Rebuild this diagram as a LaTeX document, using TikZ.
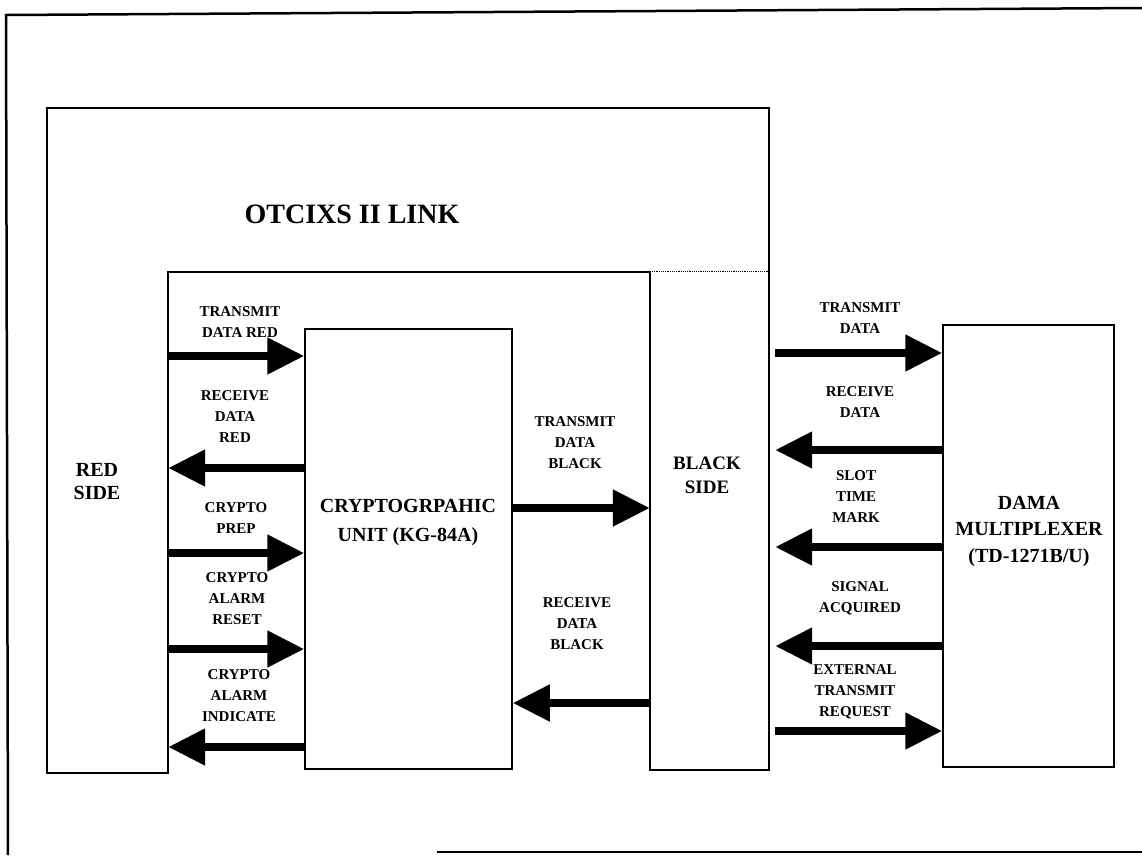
\documentclass[tikz,border=0pt]{standalone}
\usepackage{fontspec}
\setmainfont{Liberation Serif}
\usetikzlibrary{arrows.meta}

\tikzset{
  sig/.style={font=\fontsize{15}{21}\selectfont\bfseries, align=center, inner sep=0pt},
  bigtxt/.style={font=\fontsize{20}{29}\selectfont\bfseries, align=center, inner sep=0pt},
  fat/.style={line width=8pt, -{Triangle[length=37pt,width=35pt]}},
  unitbox/.style={draw, line width=1.5pt, inner sep=0pt},
  area/.style={inner sep=0pt},
}

\begin{document}
\begin{tikzpicture}[x=1pt, y=-1pt]
\useasboundingbox (0,0) rectangle (1142,855);

% Page frame
\draw[line width=2.5pt] (1142,8) -- (6,15) -- (8,855);
\draw[line width=1.5pt] (437,852) -- (1142,852);

% Sides of the link (outline only)
\node[area, minimum width=121pt, minimum height=501pt] (red) at (107.5,522.5) {};
\node[area, minimum width=119pt, minimum height=498pt] (black) at (709.5,521) {};
\draw[line width=1.5pt] (red.north east) -- (red.south east) -- (red.south west)
  -- (red.west |- 0,108) -- (black.east |- 0,108) -- (black.south east)
  -- (black.south west) -- (black.north west) -- cycle;
\draw[densely dotted, line width=1.2pt] (black.north west) -- (black.north east);

% Units
\node[unitbox, minimum width=207pt, minimum height=440pt] (crypto) at (408.5,549) {};
\node[unitbox, minimum width=171pt, minimum height=442pt] (dama) at (1028.5,546) {};

% Titles
\node[font=\fontsize{28}{32}\selectfont\bfseries, inner sep=0pt] (link) at (352,214) {OTCIXS II LINK};
\node[bigtxt] (cryptotxt) at (408,522.5) {CRYPTOGRPAHIC\\UNIT (KG-84A)};
\node[bigtxt, font=\fontsize{20}{26.5}\selectfont\bfseries] (damatxt) at (1029,531.5) {DAMA\\MULTIPLEXER\\(TD-1271B/U)};
\node[bigtxt, font=\fontsize{20}{23}\selectfont\bfseries] (redtxt) at (97,481.5) {RED\\SIDE};
\node[bigtxt, font=\fontsize{19}{24}\selectfont\bfseries] (blacktxt) at (707,475) {BLACK\\SIDE};

% Signal labels
\node[sig] (tdr) at (240,322.5) {TRANSMIT\\DATA RED};
\node[sig] (rdr) at (235,416.5) {RECEIVE\\DATA\\RED};
\node[sig] (cprep) at (236,518) {CRYPTO\\PREP};
\node[sig] (creset) at (237,599) {CRYPTO\\ALARM\\RESET};
\node[sig] (cind) at (239,695.5) {CRYPTO\\ALARM\\INDICATE};
\node[sig] (tdb) at (575,442.5) {TRANSMIT\\DATA\\BLACK};
\node[sig] (rdb) at (577,624) {RECEIVE\\DATA\\BLACK};
\node[sig] (td) at (860,318) {TRANSMIT\\DATA};
\node[sig] (rd) at (860,402.5) {RECEIVE\\DATA};
\node[sig] (stm) at (856,497) {SLOT\\TIME\\MARK};
\node[sig] (sa) at (860,598.5) {SIGNAL\\ACQUIRED};
\node[sig] (etr) at (855,692) {EXTERNAL\\TRANSMIT\\REQUEST};

% Red side <-> crypto
\draw[fat] (red.east |- 0,356) -- (crypto.west |- 0,356);
\draw[fat] (crypto.west |- 0,468) -- (red.east |- 0,468);
\draw[fat] (red.east |- 0,553) -- (crypto.west |- 0,553);
\draw[fat] (red.east |- 0,649) -- (crypto.west |- 0,649);
\draw[fat] (crypto.west |- 0,747) -- (red.east |- 0,747);

% Crypto <-> black side
\draw[fat] (crypto.east |- 0,508) -- (black.west |- 0,508);
\draw[fat] (black.west |- 0,703) -- (crypto.east |- 0,703);

% Black side <-> DAMA
\draw[fat, shorten <=6pt] (black.east |- 0,353) -- (dama.west |- 0,353);
\draw[fat, shorten >=6pt] (dama.west |- 0,450) -- (black.east |- 0,450);
\draw[fat, shorten >=6pt] (dama.west |- 0,547) -- (black.east |- 0,547);
\draw[fat, shorten >=6pt] (dama.west |- 0,646) -- (black.east |- 0,646);
\draw[fat, shorten <=6pt] (black.east |- 0,731) -- (dama.west |- 0,731);

\end{tikzpicture}
\end{document}
